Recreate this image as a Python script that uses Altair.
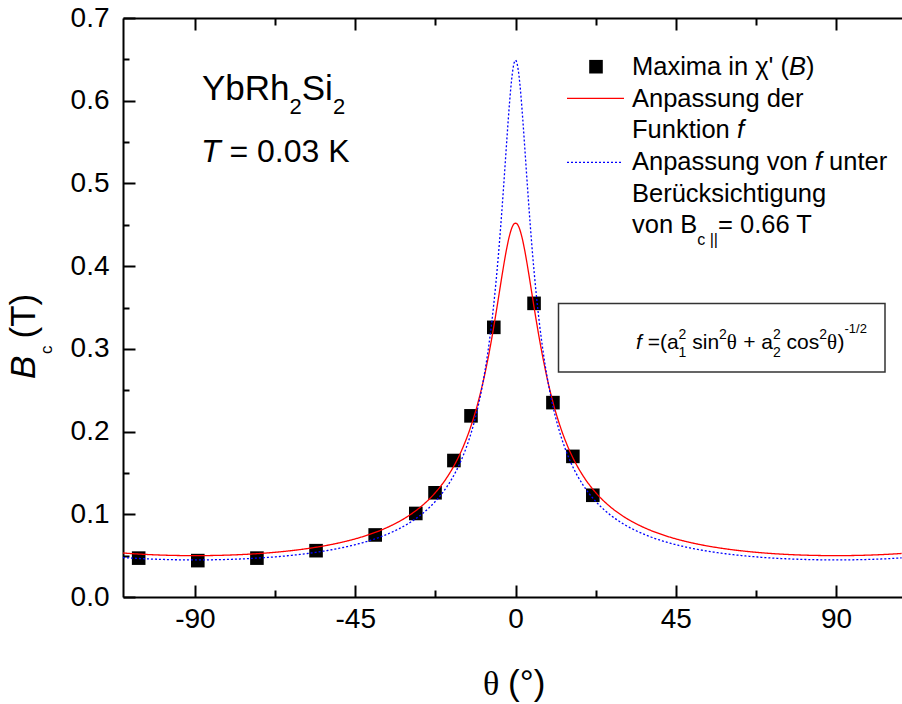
import altair as alt
import numpy as np
import pandas as pd

# ---------------- data ----------------
theta_pts = [-105.8, -89.2, -72.6, -56.0, -39.4, -28.0, -22.6, -17.3, -12.5, -6.1, 5.2, 10.5, 16.1, 21.7]
bc_pts = [0.047, 0.044, 0.047, 0.056, 0.075, 0.101, 0.126, 0.165, 0.219, 0.326, 0.355, 0.235, 0.170, 0.123]

# fit parameters of f = (a1^2 sin^2 + a2^2 cos^2)^(-1/2)
fit_red = {"a1": 20.0, "a2": 2.212}
fit_blue = {"a1": 22.3, "a2": 1.541}

x_major = [-90, -45, 0, 45, 90]
x_minor = [-67.5, -22.5, 22.5, 67.5]
y_major = [0.0, 0.1, 0.2, 0.3, 0.4, 0.5, 0.6, 0.7]
y_minor = [0.05, 0.15, 0.25, 0.35, 0.45, 0.55, 0.65]

XDOM = [-110.2, 108.5]
YDOM = [0.0, 0.7]

# ---------------- layout ----------------
OX, OY = 123, 18
W, H = 779, 579
SANS = "Liberation Sans"
SERIF = "Liberation Serif"

theta_grid = np.arange(XDOM[0], XDOM[1] + 0.01, 0.2)


def fit_curve(p):
    t = np.radians(theta_grid)
    return (p["a1"] ** 2 * np.sin(t) ** 2 + p["a2"] ** 2 * np.cos(t) ** 2) ** -0.5


curves = pd.DataFrame({
    "theta": np.concatenate([theta_grid, theta_grid]),
    "bc": np.concatenate([fit_curve(fit_red), fit_curve(fit_blue)]),
    "fit": ["red"] * len(theta_grid) + ["blue"] * len(theta_grid),
})
pts = pd.DataFrame({"theta": theta_pts, "bc": bc_pts})

xs = alt.Scale(domain=XDOM, nice=False, zero=False)
ys = alt.Scale(domain=YDOM, nice=False, zero=False)

ONE = pd.DataFrame({"k": [0]})

EM = {' ': .278, '(': .333, ')': .333, '-': .333, '.': .278, '/': .278, '=': .584, '+': .584,
      "'": .191, '|': .26, 'A': .667, 'B': .667, 'F': .611, 'K': .667, 'M': .833, 'R': .722,
      'S': .667, 'T': .611, 'Y': .667, 'a': .556, 'b': .556, 'c': .5, 'd': .556, 'e': .556,
      'f': .278, 'g': .556, 'h': .556, 'i': .222, 'k': .5, 'm': .833, 'n': .556, 'o': .556,
      'p': .556, 'r': .333, 's': .5, 't': .278, 'u': .556, 'v': .5, 'x': .5, 'ü': .556,
      'χ': .52, 'θ': .5, '°': .4}
for d in "0123456789":
    EM[d] = .556


def tw(s, size):
    return sum(EM.get(c, .556) for c in s) * size


def txt(s, x, y, size, style="normal", font=SANS, angle=0, align="left"):
    return alt.Chart(ONE).mark_text(
        text=s, fontSize=size, fontStyle=style, font=font, align=align,
        baseline="alphabetic", angle=angle, color="black"
    ).encode(x=alt.value(x - OX), y=alt.value(y - OY))


def R(t, size, dy=0, style="normal", font=SANS, stack=False):
    return dict(t=t, size=size, dy=dy, style=style, font=font, stack=stack)


def line_runs(x0, base, items):
    """Place text pieces one after another; leading spaces become an x offset."""
    out = []
    x = x0
    last_x, last_w = x0, 0
    for it in items:
        t = it["t"]
        w = tw(t, it["size"])
        lead = tw(t[: len(t) - len(t.lstrip(" "))], it["size"])
        start = last_x if it["stack"] else x
        if t.strip():
            out.append(txt(t.strip(), start + lead, base + it["dy"], it["size"], it["style"], it["font"]))
        if it["stack"]:
            last_w = max(last_w, w)
            x = last_x + last_w
        else:
            last_x, last_w = x, w
            x = x + w
    return out


# ---------------- axes (independent axes sharing the same scales) ----------------
X_MAIN = alt.Axis(orient="bottom", values=x_major, ticks=False, grid=False, title=None,
                  domain=True, domainColor="black", domainWidth=2, labelFont=SANS,
                  labelFontSize=28, labelColor="black", labelPadding=8,
                  labelExpr="datum.value < 0 ? '-' + abs(datum.value) : '' + datum.value")
Y_MAIN = alt.Axis(orient="left", values=y_major, ticks=False, grid=False, title=None,
                  domain=True, domainColor="black", domainWidth=2, format=".1f",
                  labelFont=SANS, labelFontSize=28, labelColor="black", labelPadding=14)


def tick_axis(orient, values, length):
    # an axis moved inside the plot by its tick length, so that its ticks point inward
    return alt.Axis(orient=orient, values=values, offset=-length, domain=False, labels=False,
                    ticks=True, tickSize=length, tickWidth=2, tickColor="black",
                    grid=False, title=None)


TOP_LINE = alt.Axis(orient="top", values=x_major, domain=True, domainColor="black",
                    domainWidth=2, ticks=False, labels=False, grid=False, title=None)

layers = []

# data markers (carry the main axes)
layers.append(
    alt.Chart(pts).mark_point(shape="square", filled=True, size=185, color="black", opacity=1)
    .encode(x=alt.X("theta:Q", scale=xs, axis=X_MAIN),
            y=alt.Y("bc:Q", scale=ys, axis=Y_MAIN))
)

# invisible carriers of the tick axes and of the top frame line
axis_specs = [
    ("y", tick_axis("left", y_major, 12)),
    ("y", tick_axis("left", y_minor, 6)),
    ("x", tick_axis("bottom", x_major, 12)),
    ("x", tick_axis("bottom", x_minor, 7)),
    ("x", tick_axis("top", x_major, 12)),
    ("x", tick_axis("top", x_minor, 7)),
    ("x", TOP_LINE),
]
for ch, ax in axis_specs:
    base = alt.Chart(pts).mark_point(opacity=0, size=1)
    if ch == "y":
        layers.append(base.encode(y=alt.Y("bc:Q", scale=ys, axis=ax),
                                  x=alt.X("theta:Q", scale=xs, axis=None)))
    else:
        layers.append(base.encode(x=alt.X("theta:Q", scale=xs, axis=ax),
                                  y=alt.Y("bc:Q", scale=ys, axis=None)))

# fit curves
layers.append(
    alt.Chart(curves).transform_filter("datum.fit == 'red'").mark_line(
        color="#ff0000", strokeWidth=1.3, clip=True)
    .encode(x=alt.X("theta:Q", scale=xs, axis=None), y=alt.Y("bc:Q", scale=ys, axis=None),
            order="theta:Q")
)
layers.append(
    alt.Chart(curves).transform_filter("datum.fit == 'blue'").mark_line(
        color="#0000ff", strokeWidth=1.3, strokeDash=[2, 2], clip=True)
    .encode(x=alt.X("theta:Q", scale=xs, axis=None), y=alt.Y("bc:Q", scale=ys, axis=None),
            order="theta:Q")
)

# axis titles
layers.append(txt("B", 35, 379, 35, style="italic", angle=270))
layers.append(txt("c", 52, 354, 17, angle=270))
layers.append(txt("(T)", 35, 338.5, 35, angle=270))
layers.append(txt("θ", 483, 694.5, 34, font=SERIF))
layers.append(txt("(°)", 508, 694.5, 35))

# annotations
layers += line_runs(202, 99.5, [R("YbRh", 35), R("2", 22, dy=14.5), R("Si", 35), R("2", 22, dy=14.5)])
layers += line_runs(201, 161.5, [R("T", 32, style="italic"), R(" = 0.03 K", 32)])

# legend
LS = 25.5
LX = 632
layers.append(alt.Chart(ONE).mark_point(shape="square", filled=True, size=185, color="black", opacity=1)
              .encode(x=alt.value(596 - OX), y=alt.value(66.7 - OY)))
layers.append(alt.Chart(ONE).mark_rule(color="#ff0000", strokeWidth=1.3)
              .encode(x=alt.value(567 - OX), x2=alt.value(624 - OX), y=alt.value(98.3 - OY),
                      y2=alt.value(98.3 - OY)))
layers.append(alt.Chart(ONE).mark_rule(color="#0000ff", strokeWidth=1.3, strokeDash=[2, 2])
              .encode(x=alt.value(567 - OX), x2=alt.value(623 - OX), y=alt.value(162.3 - OY),
                      y2=alt.value(162.3 - OY)))
layers += line_runs(LX, 75, [R("Maxima in ", LS), R("χ", LS), R("' (", LS), R("B", LS, style="italic"), R(")", LS)])
layers += line_runs(LX, 106.7, [R("Anpassung der", LS)])
layers += line_runs(LX, 138.3, [R("Funktion ", LS), R("f", LS, style="italic")])
layers += line_runs(LX, 170, [R("Anpassung von ", LS), R("f", LS, style="italic"), R(" unter", LS)])
layers += line_runs(LX, 201.7, [R("Berücksichtigung", LS)])
layers += line_runs(LX, 233.3, [R("von B", LS), R("c ||", 16, dy=12), R("= 0.66 T", LS)])

# formula box
layers.append(alt.Chart(ONE).mark_rect(fill="white", stroke="#333333", strokeWidth=1.5)
              .encode(x=alt.value(558.5 - OX), x2=alt.value(885 - OX),
                      y=alt.value(303.5 - OY), y2=alt.value(372 - OY)))
FS, SS = 21, 14
FB = 349
layers += line_runs(636, FB, [
    R("f", FS, style="italic"), R(" =(", FS), R("a", FS),
    R("2", SS, dy=-10), R("1", SS, dy=8, stack=True),
    R(" sin", FS), R("2", SS, dy=-10), R("θ", FS, font=SERIF),
    R(" + ", FS), R("a", FS),
    R("2", SS, dy=-10), R("2", SS, dy=8, stack=True),
    R(" cos", FS), R("2", SS, dy=-10), R("θ", FS, font=SERIF),
    R(")", FS), R("-1/2", 13, dy=-16),
])

chart = alt.layer(*layers).resolve_axis(x="independent", y="independent").properties(
    width=W, height=H,
    autosize=alt.AutoSizeParams(type="none"),
    padding={"left": OX, "top": OY, "right": 0, "bottom": 704 - OY - H},
    background="white",
).configure_view(strokeWidth=0)

chart.save("out.html", embed_options={"renderer": "svg", "actions": False})
